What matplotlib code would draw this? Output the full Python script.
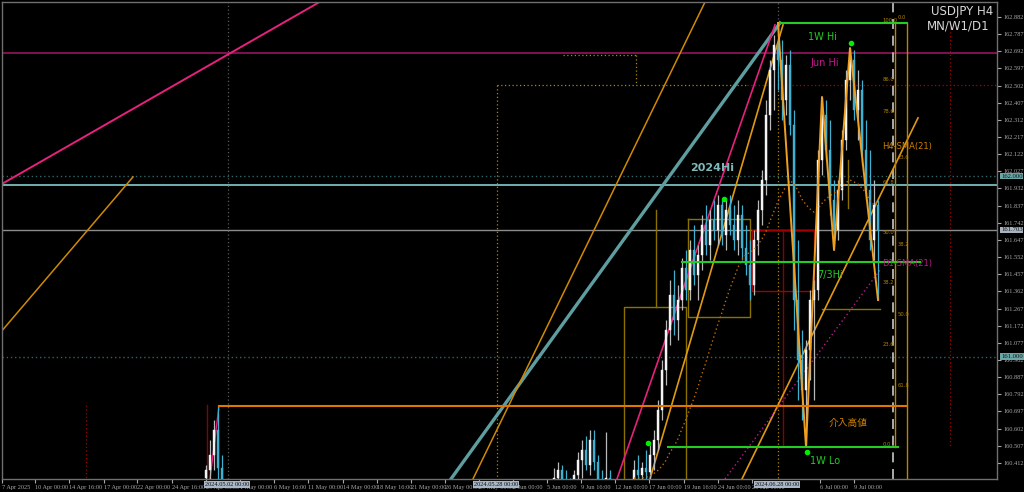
import numpy as np
import pandas as pd
import matplotlib
matplotlib.use("Agg")
import matplotlib.pyplot as plt

plt.rcParams['font.family'] = ['DejaVu Sans', 'Noto Sans CJK JP']

# ---- candle data (H4 bar index, OHLC) ----
spike_bars = [51, 52, 53, 54, 55]
spike_open = [160.328, 160.372, 160.455, 160.594, 160.383]
spike_high = [160.400, 160.538, 160.649, 160.727, 160.455]
spike_low = [160.261, 160.289, 160.372, 160.317, 160.261]
spike_close = [160.372, 160.455, 160.594, 160.383, 160.306]

main_bars = list(range(138, 220))
main_open = [160.289, 160.328, 160.372, 160.306, 160.272, 160.250, 160.344, 160.428, 160.483, 160.400,
             160.538, 160.417, 160.317, 160.289, 160.328, 160.261, 160.217, 160.234, 160.261, 160.206,
             160.250, 160.372, 160.344, 160.383, 160.361, 160.455, 160.538, 160.705, 160.926, 161.148,
             161.342, 161.203, 161.314, 161.491, 161.370, 161.591, 161.453, 161.563, 161.730, 161.619,
             161.757, 161.702, 161.840, 161.674, 161.813, 161.730, 161.646, 161.785, 161.602, 161.508,
             161.397, 161.646, 161.813, 161.979, 162.339, 162.588, 162.727, 162.644, 162.422, 162.616,
             162.284, 161.314, 160.982, 160.815, 161.037, 161.314, 161.370, 162.090, 162.339, 162.145,
             161.868, 161.702, 161.924, 162.200, 162.533, 162.644, 162.367, 162.477, 162.145, 161.924,
             161.646, 161.840]
main_high = [160.383, 160.417, 160.400, 160.372, 160.328, 160.372, 160.472, 160.538, 160.561, 160.594,
             160.594, 160.455, 160.372, 160.583, 160.372, 160.306, 160.272, 160.289, 160.295, 160.272,
             160.428, 160.455, 160.417, 160.483, 160.511, 160.594, 160.760, 160.982, 161.203, 161.425,
             161.480, 161.397, 161.547, 161.591, 161.646, 161.730, 161.619, 161.785, 161.840, 161.813,
             161.868, 161.896, 161.868, 161.868, 161.896, 161.840, 161.868, 161.840, 161.730, 161.646,
             161.702, 161.868, 162.034, 162.422, 162.644, 162.782, 162.849, 162.754, 162.671, 162.699,
             162.367, 161.646, 161.148, 161.092, 161.370, 161.425, 162.145, 162.439, 162.422, 162.311,
             161.979, 161.979, 162.256, 162.588, 162.710, 162.699, 162.588, 162.533, 162.311, 162.145,
             161.979, 161.868]
main_low = [160.234, 160.261, 160.272, 160.234, 160.206, 160.206, 160.289, 160.328, 160.372, 160.344,
            160.372, 160.261, 160.234, 160.234, 160.234, 160.178, 160.151, 160.162, 160.178, 160.151,
            160.206, 160.289, 160.261, 160.317, 160.306, 160.372, 160.483, 160.649, 160.843, 161.065,
            161.120, 161.092, 161.259, 161.314, 161.314, 161.397, 161.314, 161.480, 161.563, 161.536,
            161.646, 161.619, 161.619, 161.591, 161.674, 161.591, 161.563, 161.536, 161.453, 161.314,
            161.342, 161.563, 161.730, 161.896, 162.256, 162.367, 162.477, 162.311, 162.339, 162.228,
            161.148, 160.760, 160.649, 160.500, 160.871, 160.760, 161.314, 162.007, 162.090, 161.785,
            161.591, 161.646, 161.868, 162.145, 162.422, 162.311, 162.200, 162.062, 161.868, 161.591,
            161.536, 161.314]
main_close = [160.328, 160.372, 160.306, 160.272, 160.250, 160.344, 160.428, 160.483, 160.400, 160.538,
              160.417, 160.317, 160.289, 160.328, 160.261, 160.217, 160.234, 160.261, 160.206, 160.250,
              160.372, 160.344, 160.383, 160.361, 160.455, 160.538, 160.705, 160.926, 161.148, 161.342,
              161.203, 161.314, 161.491, 161.370, 161.591, 161.453, 161.563, 161.730, 161.619, 161.757,
              161.702, 161.840, 161.674, 161.813, 161.730, 161.646, 161.785, 161.602, 161.508, 161.397,
              161.646, 161.813, 161.979, 162.339, 162.588, 162.727, 162.644, 162.422, 162.616, 162.284,
              161.314, 160.982, 160.815, 161.037, 161.314, 161.370, 162.090, 162.339, 162.145, 161.868,
              161.702, 161.924, 162.200, 162.533, 162.644, 162.367, 162.477, 162.145, 161.924, 161.646,
              161.840, 161.703]

# ---- levels ----
week_hi = 162.849
week_lo = 160.500
jun_hi = 162.683
hi_2024 = 161.951
hi_0703 = 161.525
intervention_hi = 160.727
last_price = 161.703
round_levels = [162.000, 161.000]

# zigzag pivots (bar, price)
zz_bars = [194, 201, 205, 208, 212, 219]
zz_prices = [162.849, 160.500, 162.439, 161.591, 162.710, 161.314]

# trend lines: (bar0, price0, bar1, price1)
trend_lines = [
    (-0.5, 161.951, 80.25, 162.976),
    (-0.5, 161.131, 32.75, 161.996),
    (112.25, 160.323, 194.5, 162.849),
    (117.75, 160.323, 176.0, 162.976),
    (153.75, 160.323, 193.25, 162.838),
    (162.0, 160.323, 195.25, 162.838),
    (185.0, 160.323, 229.0, 162.323),
    (52.0, 160.323, 54.25, 160.727),
]
trend_styles = [('#e8207e', 1.4), ('#d08a00', 1.1), ('#5f9ea0', 2.4), ('#d08a00', 1.1),
                ('#e8207e', 1.2), ('#e09a10', 1.2), ('#e09a10', 1.2), ('#e8207e', 1.0)]
d1_sma = (180.75, 160.323, 219.5, 161.48)

# fibonacci
fib1_levels = [0.0, 23.6, 38.2, 50.0, 61.8, 78.6, 86.0, 100.0]
fib2_levels = [0.0, 23.6, 38.2, 50.0, 61.8]
fib2_top = 162.865
fib2_bottom = 159.57

# signal dots (bar, price)
dot_bars = [212.25, 180.5, 161.5, 201.25]
dot_prices = [162.738, 161.874, 160.522, 160.472]

# axis labels
price_ticks = [160.412, 160.507, 160.602, 160.697, 160.792, 160.887, 160.982, 161.077, 161.172,
               161.267, 161.362, 161.457, 161.552, 161.647, 161.742, 161.837, 161.932, 162.027,
               162.122, 162.217, 162.312, 162.407, 162.502, 162.597, 162.692, 162.787, 162.882]
time_ticks = [0, 8.25, 16.75, 25.5, 33.75, 42.5, 51, 59.5, 68, 76.5, 85.25, 93.75, 102.25, 110.75,
              119.25, 127.75, 136.25, 144.75, 153.25, 161.75, 170.5, 179, 187.5, 204.5, 213]
time_labels = ['7 Apr 2025', '10 Apr 00:00', '14 Apr 16:00', '17 Apr 00:00', '22 Apr 00:00',
               '24 Apr 16:00', '29 Apr 00:00', '1 May 00:00', '6 May 16:00', '11 May 00:00',
               '14 May 00:00', '18 May 16:00', '21 May 00:00', '26 May 00:00', '29 May 00:00',
               '2 Jun 00:00', '5 Jun 00:00', '9 Jun 16:00', '12 Jun 00:00', '17 Jun 00:00',
               '19 Jun 16:00', '24 Jun 00:00', '26 Jun 16:00', '6 Jul 00:00', '9 Jul 00:00']
sep_bars = [56.25, 123.5, 193.75]
sep_labels = ['2024.05.02 00:00', '2024.05.28 00:00', '2024.06.28 00:00']

# ---- figure ----
fig = plt.figure(figsize=(10.24, 4.92), dpi=100, facecolor='black')
ax = fig.add_axes([2 / 1024, 13 / 492, 995 / 1024, 477 / 492], facecolor='black')
ax.set_xlim(0, 248.75)
ax.set_ylim(160.3225, 162.965)

# horizontal levels
ax.axhline(jun_hi, color='#8a1456', lw=1.3, zorder=1)
ax.axhline(hi_2024, color='#6fb0b0', lw=1.4, zorder=1)
ax.axhline(last_price, color='#8c8c8c', lw=1.0, zorder=1)
for lv in round_levels:
    ax.axhline(lv, color='#2f6464', lw=1.0, ls=(0, (1, 2)), zorder=1)

# dotted guide lines
ax.plot([123.75, 186.25], [162.505, 162.505], color='#b08a00', lw=0.9, ls=(0, (1, 2)))
ax.plot([186.25, 248.75], [162.505, 162.505], color='#b00000', lw=0.9, ls=(0, (1, 2)))
ax.plot([140.25, 158.5], [162.671, 162.671], color='#b08a00', lw=0.9, ls=(0, (1, 2)))
ax.plot([158.5, 158.5], [162.671, 162.505], color='#b08a00', lw=0.9, ls=(0, (1, 2)))
ax.plot([123.75, 123.75], [162.505, 160.3], color='#b08a00', lw=0.9, ls=(0, (1, 2)))
ax.axvline(56.5, color='#5a5a5a', lw=0.9, ls=(0, (1, 2)))
ax.plot([194, 194], [163.0, week_hi], color='#5a5a5a', lw=0.9, ls=(0, (1, 2)))
ax.plot([194, 194], [week_hi, 160.3], color='#b08a00', lw=0.9, ls=(0, (1, 2)))
ax.axvline(222.75, color='#c8c8c8', lw=1.2, ls=(0, (6, 4)))
ax.plot([237, 237], [162.82, 160.50], color='#a00000', lw=0.9, ls=(0, (1, 2)))
ax.plot([21, 21], [160.732, 160.3], color='#a00000', lw=0.9, ls=(0, (1, 2)))
ax.plot([51.25, 51.25], [160.732, 160.3], color='#8a0000', lw=1.0)
ax.plot([195.25, 195.25], [last_price, week_lo], color='#8a0000', lw=1.0)

# boxes
ax.plot([187.5, 203, 203, 187.5, 187.5], [161.702, 161.702, 161.364, 161.364, 161.702], color='#a00000', lw=1.0)
ax.plot([155.5, 155.5, 171, 171], [160.3, 161.275, 161.275, 160.3], color='#8b7200', lw=1.0)
ax.plot([171.5, 187, 187, 171.5, 171.5], [161.763, 161.763, 161.220, 161.220, 161.763], color='#8b7200', lw=1.0)
ax.plot([163.5, 163.5], [161.813, 161.275], color='#8b7200', lw=1.0)
ax.plot([205, 219.5], [161.264, 161.264], color='#8b7200', lw=1.0)
ax.plot([211.5, 211.5], [162.09, 161.824], color='#8b7200', lw=1.0)

# trend lines
for (b0, p0, b1, p1), (col, w) in zip(trend_lines, trend_styles):
    ax.plot([b0, b1], [p0, p1], color=col, lw=w, zorder=2)
ax.plot([d1_sma[0], d1_sma[2]], [d1_sma[1], d1_sma[3]], color='#c0188c', lw=1.0, ls=(0, (1, 2)), zorder=2)

# candles
def draw_candles(xs, o, h, l, c):
    for x, oo, hh, ll, cc in zip(xs, o, h, l, c):
        col = '#f4f4f4' if cc >= oo else '#3fb0d0'
        ax.vlines(x, ll, hh, color='#b8b8b8' if cc >= oo else col, lw=0.9, zorder=3)
        ax.bar(x, max(abs(cc - oo), 0.004), bottom=min(oo, cc), width=0.6,
               color=col, edgecolor=col, lw=0.3, zorder=3)

draw_candles(spike_bars, spike_open, spike_high, spike_low, spike_close)
draw_candles(main_bars, main_open, main_high, main_low, main_close)

sma = pd.Series(main_close).rolling(21).mean()
ax.plot(main_bars, sma, color='#c06a00', lw=1.0, ls=(0, (1, 2)), zorder=4)

# zigzag
ax.plot(zz_bars, zz_prices, color='#f0a020', lw=1.4, zorder=4)

# key level segments
ax.plot([194.5, 226.25], [week_hi, week_hi], color='#22cc22', lw=1.5, zorder=5)
ax.plot([166.5, 224], [week_lo, week_lo], color='#22cc22', lw=1.5, zorder=5)
ax.plot([170, 229.5], [hi_0703, hi_0703], color='#22cc22', lw=1.5, zorder=5)
ax.plot([54.25, 226.25], [intervention_hi, intervention_hi], color='#e07800', lw=1.5, zorder=5)

# fibonacci lines and labels
ax.plot([223.25, 223.25], [week_hi, week_lo], color='#c08000', lw=1.0, zorder=5)
ax.plot([226.25, 226.25], [week_hi, 160.3], color='#c08000', lw=1.0, zorder=5)
for lv in fib1_levels:
    ax.text(220.2, week_lo + (week_hi - week_lo) * lv / 100, f'{lv:.1f}', color='#b08000',
            fontsize=3.8, va='bottom', ha='left', zorder=6)
for lv in fib2_levels:
    ax.text(224.0, fib2_top - (fib2_top - fib2_bottom) * lv / 100, f'{lv:.1f}', color='#b08000',
            fontsize=3.8, va='bottom', ha='left', zorder=6)

# dots
ax.scatter(dot_bars, dot_prices, s=9, color='#00ee00', zorder=7)

# text labels
ax.text(205.25, 162.771, '1W Hi', color='#22cc22', fontsize=7, ha='center', va='center', zorder=7)
ax.text(205.75, 162.627, 'Jun Hi', color='#c0188c', fontsize=7, ha='center', va='center', zorder=7)
ax.text(220, 162.162, 'H4-SMA(21)', color='#d08000', fontsize=6, ha='left', va='center', zorder=7)
ax.text(177.5, 162.045, '2024Hi', color='#7fb8b8', fontsize=8, fontweight='bold', ha='center', va='center', zorder=7)
ax.text(220, 161.519, 'D1-SMA(21)', color='#c0188c', fontsize=6, ha='left', va='center', zorder=7)
ax.text(207, 161.453, '7/3Hi', color='#22cc22', fontsize=7, ha='center', va='center', zorder=7)
ax.text(211.5, 160.633, '介入高値', color='#d08000', fontsize=7, ha='center', va='center',
        family=['Noto Sans CJK JP', 'DejaVu Sans'], zorder=7)
ax.text(205.75, 160.422, '1W Lo', color='#22cc22', fontsize=7, ha='center', va='center', zorder=7)

fig.text(993 / 1024, 1 - 11 / 492, 'USDJPY H4', color='#d8d8d8', fontsize=8.5, ha='right', va='center')
fig.text(990 / 1024, 1 - 26 / 492, 'MN/W1/D1', color='#d8d8d8', fontsize=8.5, ha='right', va='center')

# axes styling
for side in ['left', 'bottom', 'right', 'top']:
    ax.spines[side].set_color('#707070')
    ax.spines[side].set_linewidth(1.0)
ax.yaxis.tick_right()
ax.set_yticks(price_ticks)
ax.set_yticklabels([f'{p:.3f}' for p in price_ticks])
ax.tick_params(axis='y', colors='#a8a8a8', labelsize=4.6, length=3, pad=1.5)
ax.set_xticks(time_ticks)
ax.set_xticklabels(time_labels, ha='left')
ax.tick_params(axis='x', colors='#a8a8a8', labelsize=4.5, length=3, pad=1.5)
for lab in ax.get_xticklabels() + ax.get_yticklabels():
    lab.set_family('Liberation Serif')

# boxed price labels on the right axis
right_boxes = [(162.000, '162.000', '#6aa8a8'), (last_price, '161.703', '#aab4c0'), (161.000, '161.000', '#6aa8a8')]
for p, txt, bg in right_boxes:
    ax.text(1.004, p, txt, transform=ax.get_yaxis_transform(), fontsize=4.8, color='#101010',
            family='Liberation Serif', ha='left', va='center', zorder=8, clip_on=False,
            bbox=dict(boxstyle='square,pad=0.12', facecolor=bg, edgecolor='none'))

# boxed time labels for separators
for b, txt in zip(sep_bars, sep_labels):
    ax.text(b, -0.006, txt, transform=ax.get_xaxis_transform(), fontsize=4.6, color='#101010',
            family='Liberation Serif', ha='center', va='top', zorder=8, clip_on=False,
            bbox=dict(boxstyle='square,pad=0.2', facecolor='#a8b8c8', edgecolor='none'))

fig.savefig('out.png', dpi=100, facecolor='black')
